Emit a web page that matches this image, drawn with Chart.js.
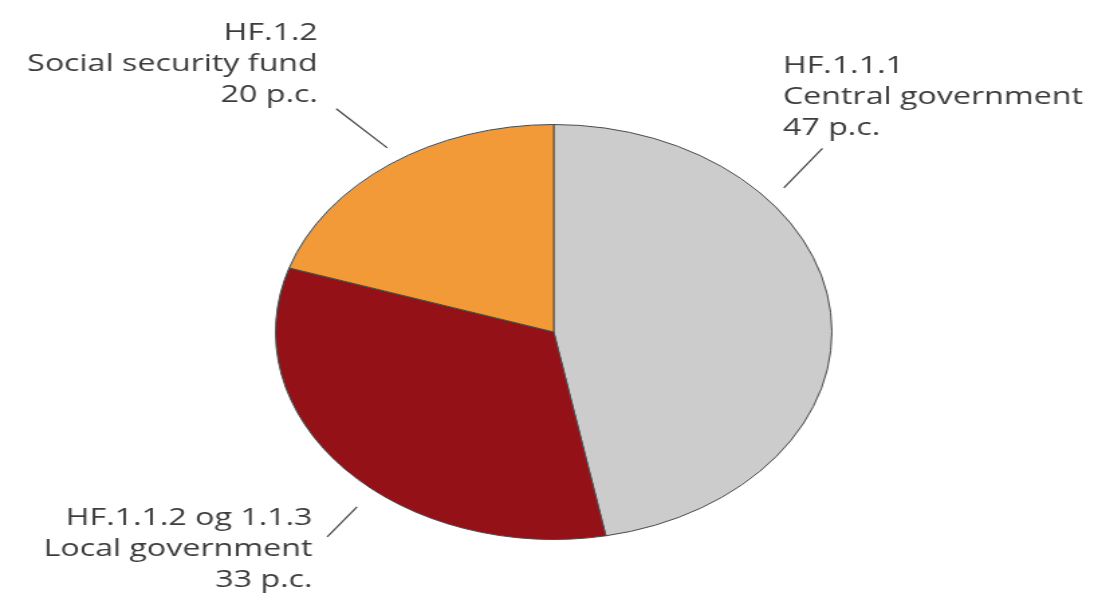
<!DOCTYPE html>
<html>
<head>
<meta charset="utf-8">
<script src="https://cdn.jsdelivr.net/npm/chart.js@4.4.0/dist/chart.umd.min.js"></script>
<style>
  html, body { margin: 0; padding: 0; background: #fff; overflow: hidden; }
  #chart { display: block; transform: scale(1.3407, 1); transform-origin: 0 0; }
</style>
</head>
<body>
<canvas id="chart" width="816" height="614"></canvas>
<script>
const codes = ["HF.1.1.1", "HF.1.1.2 og 1.1.3", "HF.1.2"];
const names = ["Central government", "Local government", "Social security fund"];
const shares = [47, 33, 20];
const colours = ["#cccccc", "#951118", "#f29a37"];

// label placement, relative to pie centre/radius (logical px, before the x-stretch)
const labelSpots = [
  { a1: 50, a2: 47.5, r1: 1.08, r2: 1.31, dx: 171, dy: -259, align: "left" },
  { a1: 220, a2: 219.5, r1: 1.1, r2: 1.28, dx: -180, dy: 193, align: "right" },
  { a1: 326, a2: 324, r1: 1.07, r2: 1.33, dx: -176, dy: -292, align: "right" },
];

const pieLabels = {
  id: "pieLabels",
  afterDatasetsDraw(chart) {
    const c = chart.ctx;
    const arc = chart.getDatasetMeta(0).data[0];
    const cx = arc.x, cy = arc.y, r = arc.outerRadius;
    c.save();
    c.strokeStyle = "#444";
    c.lineWidth = 1.2;
    c.fillStyle = "#3c3c3c";
    c.font = "24px 'Open Sans'";
    labelSpots.forEach((s, i) => {
      const p = (a, k) => {
        const t = (a * Math.PI) / 180;
        return [cx + Math.sin(t) * r * k, cy - Math.cos(t) * r * k];
      };
      const [x1, y1] = p(s.a1, s.r1);
      const [x2, y2] = p(s.a2, s.r2);
      c.beginPath();
      c.moveTo(x1, y1);
      c.lineTo(x2, y2);
      c.stroke();
      c.textAlign = s.align;
      c.textBaseline = "alphabetic";
      const lines = [codes[i], names[i], shares[i] + " p.c."];
      lines.forEach((txt, j) => {
        c.fillText(txt, cx + s.dx, cy + s.dy + j * 31);
      });
    });
    c.restore();
  },
};

new Chart(document.getElementById("chart"), {
  type: "pie",
  data: {
    labels: names,
    datasets: [
      {
        data: shares,
        backgroundColor: colours,
        borderColor: "#4a4a4a",
        borderWidth: 1,
        hoverOffset: 0,
      },
    ],
  },
  options: {
    responsive: false,
    animation: false,
    devicePixelRatio: 1,
    layout: { padding: { top: 124, bottom: 74, left: 10, right: 0 } },
    plugins: {
      legend: { display: false },
      tooltip: { enabled: false },
    },
  },
  plugins: [pieLabels],
});
</script>
</body>
</html>
